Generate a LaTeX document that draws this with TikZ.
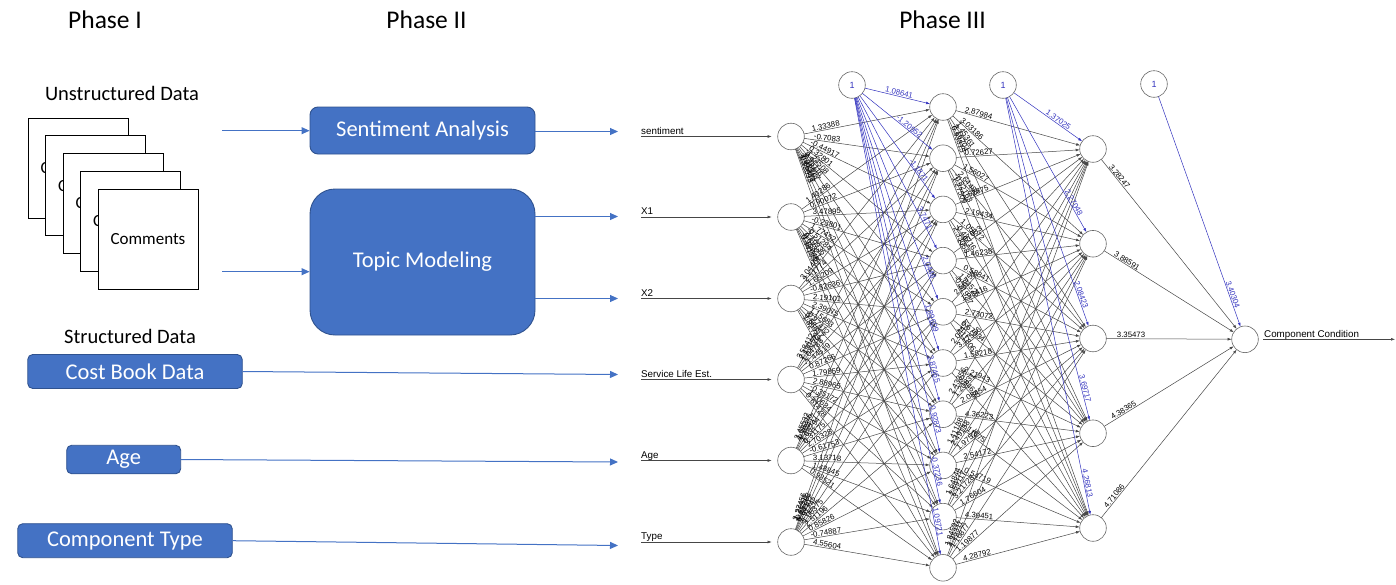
\documentclass[tikz,border=0pt]{standalone}
\usepackage{fontspec}
\setmainfont{Carlito}
\newfontfamily\arl{Liberation Sans}
\usetikzlibrary{arrows.meta}
\definecolor{ofblue}{HTML}{4472C4}
\definecolor{ofedge}{HTML}{2F528F}
\definecolor{nnblue}{RGB}{50,50,190}
\definecolor{nngray}{RGB}{70,70,70}

\begin{document}
\begin{tikzpicture}[x=1pt,y=-1pt,
  title/.style={font=\fontsize{25.5}{28}\selectfont},
  heading/.style={font=\fontsize{20.5}{24}\selectfont},
  page/.style={draw=black,line width=0.9pt,fill=white,minimum width=100pt,minimum height=100pt,
    inner sep=0pt,font=\fontsize{17}{20}\selectfont},
  obox/.style={draw=ofedge,line width=0.9pt,fill=ofblue,text=white,inner sep=0pt,
    font=\fontsize{22.5}{26}\selectfont},
  oarrow/.style={draw=ofblue,line width=1pt,-{Triangle[length=8pt,width=7pt]}},
  neuron/.style={circle,draw=black!60,line width=0.6pt,minimum size=26.6pt,inner sep=0pt,outer sep=0pt},
  syn/.style={draw=nngray,line width=0.5pt,-{Latex[length=4pt,width=2.8pt]}},
  bsyn/.style={draw=nnblue,line width=0.5pt,-{Latex[length=4pt,width=2.8pt]}},
  wlbl/.style={sloped,above,inner sep=0.6pt,font=\arl\fontsize{7.8}{8}\selectfont},
  blbl/.style={wlbl,text=nnblue},
  nnlbl/.style={anchor=base west,inner sep=0pt,font=\arl\fontsize{9.8}{11}\selectfont},
]
\useasboundingbox (0,0) rectangle (1396,584);

% ---------- phase titles ----------
\node[title] (ph1) at (105,20) {Phase I};
\node[title] (ph2) at (426.5,20) {Phase II};
\node[title] (ph3) at (942.5,20) {Phase III};

% ---------- phase I: data sources ----------
\node[heading] (uhead) at (122,93) {Unstructured Data};
\foreach \k in {0,...,4}
  \node[page] (pg\k) at (78+17.5*\k,168+17.75*\k) {Comments};
\node[heading] (shead) at (130,336) {Structured Data};

\node[obox,minimum width=214.5pt,minimum height=34pt,rounded corners=5pt] (cb) at (135,371.5) {Cost Book Data};
\node[obox,minimum width=114pt,minimum height=28.5pt,rounded corners=5pt] (age) at (123.7,459.5) {Age};
\node[obox,minimum width=214.5pt,minimum height=34pt,rounded corners=5pt] (ct) at (125,540.7) {Component Type};

% ---------- phase II: text processing ----------
\node[obox,minimum width=225pt,minimum height=47pt,rounded corners=8pt] (sa) at (422.5,130.5) {Sentiment Analysis};
\node[obox,minimum width=225pt,minimum height=146pt,rounded corners=25pt] (tm) at (422.5,262) {Topic Modeling};

\coordinate (u1) at (222,130.7);
\coordinate (u2) at (222,271.7);
\coordinate (t1) at (618,131.5);
\coordinate (t2) at (618,216.5);
\coordinate (t3) at (618,298.5);
\coordinate (t4) at (618,374.5);
\coordinate (t5) at (618,462);
\coordinate (t6) at (618,545.5);

\draw[oarrow] (u1) -- (u1 -| sa.west);
\draw[oarrow] (u2) -- (u2 -| tm.west);
\draw[oarrow] (sa.east |- t1) -- (t1);
\draw[oarrow] (tm.east |- t2) -- (t2);
\draw[oarrow] (tm.east |- t3) -- (t3);
\draw[oarrow] (cb.east) -- (t4);
\draw[oarrow] (age.east) -- (t5);
\draw[oarrow] (ct.east) -- (t6);

% ---------- phase III: neural network ----------
\foreach \i/\y in {1/136.5,2/217,3/298.5,4/379.5,5/460.5,6/542}
  \node[neuron] (in\i) at (791,\y) {};
\foreach \j in {1,...,10}
  \node[neuron] (h\j) at (943,107+51.2*\j-51.2) {};
\foreach \k in {1,...,5}
  \node[neuron] (g\k) at (1093,149+94.75*\k-94.75) {};
\node[neuron] (o) at (1245,339.3) {};
\node[neuron,text=nnblue,font=\arl\fontsize{9}{10}\selectfont] (b1) at (852,85) {1};
\node[neuron,text=nnblue,font=\arl\fontsize{9}{10}\selectfont] (b2) at (1003,85) {1};
\node[neuron,text=nnblue,font=\arl\fontsize{9}{10}\selectfont] (b3) at (1154,84) {1};

% input variables
\foreach \i/\y/\t in {1/136.5/sentiment,2/217/X1,3/298.5/X2,4/379.5/Service Life Est.,5/460.5/Age,6/542/Type}{
  \coordinate (s\i) at (641,\y);
  \node[nnlbl] (l\i) at (641,\y-2.2) {\t};
  \draw[syn,shorten >=6pt] (s\i) -- (in\i);
}

% response variable
\coordinate (oend) at (1395,339.3);
\node[nnlbl] (ol) at (1264,337.1) {Component Condition};
\draw[syn,shorten <=5pt] (o) -- (oend);

% input -> hidden layer 1
\foreach \w [count=\n from 0] in {
  1.33388,-0.7083,-0.44917,0.32801,-1.24508,0.95116,-0.18827,2.01345,-0.66472,1.52093,
  1.40286,0.90072,3.47895,-0.23801,1.77452,-0.51284,2.10936,0.67321,-1.33048,0.44185,
  3.04461,2.51774,1.65209,-0.82636,2.19101,2.39075,1.15683,-0.97412,0.58857,1.82743,
  3.58412,2.13057,1.04788,-1.44519,0.87266,1.79859,2.88965,-0.35172,1.20634,0.61428,
  2.45532,1.08376,-0.93417,1.65294,0.31175,2.70328,-0.61753,3.13718,1.48845,0.93521,
  2.27456,1.36911,-0.55283,0.84107,1.91242,-1.06375,2.51196,0.85826,-0.74887,4.55604}{
  \pgfmathtruncatemacro\i{\n/10+1}
  \pgfmathtruncatemacro\j{mod(\n,10)+1}
  \pgfmathsetmacro\ya{{136.5,217,298.5,379.5,460.5,542}[\i-1]}
  \pgfmathsetmacro\yb{107+51.2*(\j-1)}
  \pgfmathsetmacro\f{(36-13.3)/(veclen(152,\yb-\ya)-26.6)}
  \draw[syn] (in\i) -- (h\j) node[wlbl,pos=\f] {\w};
}

% hidden layer 1 -> hidden layer 2
\foreach \w [count=\n from 0] in {
  2.87984,3.03186,1.45361,2.16204,0.93315,
  0.72627,1.56027,2.64488,-0.82163,1.27509,
  1.52875,2.19434,1.05172,-0.44716,2.33058,
  2.07653,1.46238,0.58841,1.84526,-0.31927,
  2.56755,1.93416,2.73072,0.67934,1.11806,
  2.04427,3.17556,1.58218,2.21943,0.84662,
  2.43356,1.20831,2.08454,4.36223,2.11675,
  1.41138,2.49133,1.97525,2.54172,0.54719,
  1.64844,2.59117,3.21728,1.76604,4.39451,
  1.84592,2.35311,1.16877,1.19877,4.28792}{
  \pgfmathtruncatemacro\j{\n/5+1}
  \pgfmathtruncatemacro\k{mod(\n,5)+1}
  \pgfmathsetmacro\ya{107+51.2*(\j-1)}
  \pgfmathsetmacro\yb{149+94.75*(\k-1)}
  \pgfmathsetmacro\f{(36-13.3)/(veclen(150,\yb-\ya)-26.6)}
  \draw[syn] (h\j) -- (g\k) node[wlbl,pos=\f] {\w};
}

% hidden layer 2 -> output
\foreach \w [count=\k] in {3.28247,3.88591,3.35473,4.38365,4.71086}{
  \pgfmathsetmacro\ya{149+94.75*(\k-1)}
  \pgfmathsetmacro\f{(38-13.3)/(veclen(152,339.3-\ya)-26.6)}
  \draw[syn] (g\k) -- (o) node[wlbl,pos=\f] {\w};
}

% intercepts
\foreach \w [count=\j] in {1.08641,-1.20952,-1.1871,3.7471,2.0448,1.89609,3.87465,0.92873,-0.37236,1.09721}{
  \pgfmathsetmacro\yb{107+51.2*(\j-1)}
  \pgfmathsetmacro\f{1-(46-13.3)/(veclen(91,\yb-85)-26.6)}
  \draw[bsyn] (b1) -- (h\j) node[blbl,pos=\f] {\w};
}
\foreach \w [count=\k] in {1.37025,2.27048,2.08423,3.69717,4.26813}{
  \pgfmathsetmacro\yb{149+94.75*(\k-1)}
  \pgfmathsetmacro\f{1-(45-13.3)/(veclen(90,\yb-85)-26.6)}
  \draw[bsyn] (b2) -- (g\k) node[blbl,pos=\f] {\w};
}
\pgfmathsetmacro\f{1-(46-13.3)/(veclen(91,255.3)-26.6)}
\draw[bsyn] (b3) -- (o) node[blbl,pos=\f] {3.40304};

\end{tikzpicture}
\end{document}
